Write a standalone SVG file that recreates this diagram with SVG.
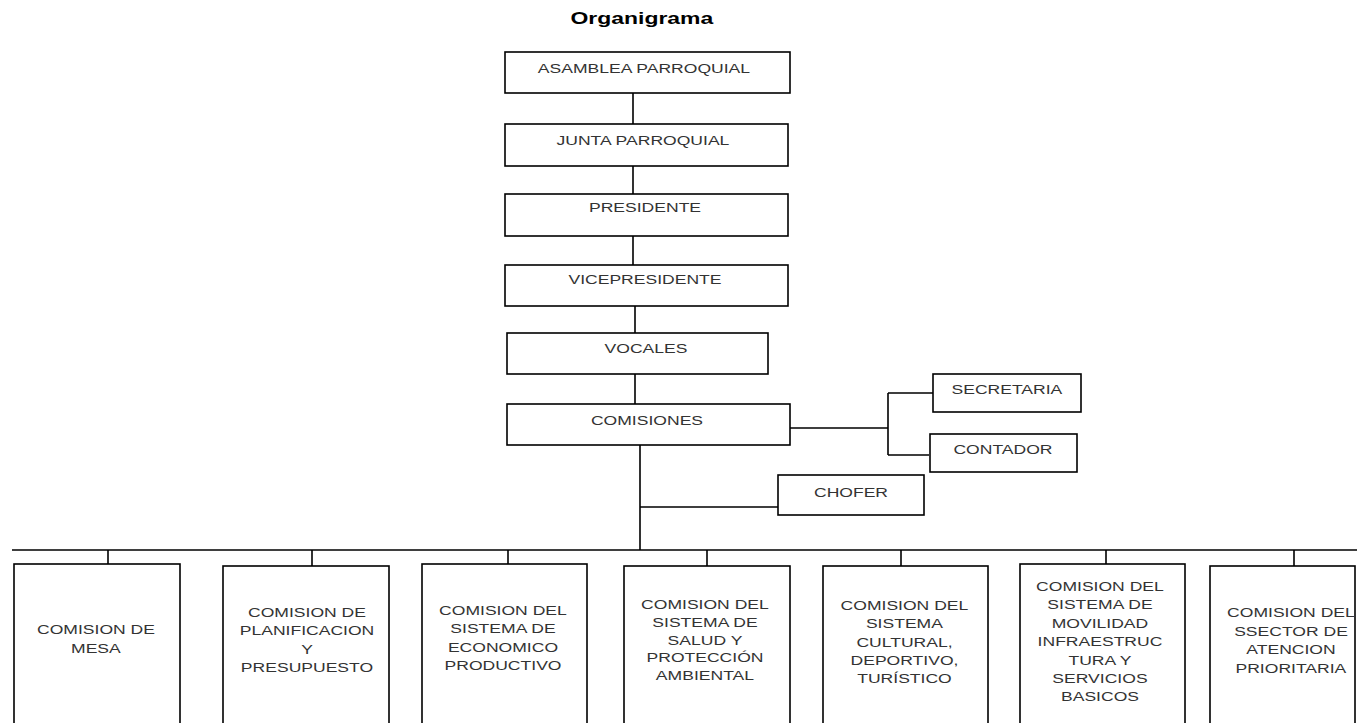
<svg xmlns="http://www.w3.org/2000/svg" width="1357" height="723" viewBox="0 0 1357 723">
<style>
.b{fill:#fff;stroke:#000;stroke-width:1.6}
.t{font-family:"Liberation Sans",Arial,sans-serif;font-size:13px;fill:#333;text-anchor:middle}
.h{font-family:"Liberation Sans",Arial,sans-serif;font-size:17px;font-weight:bold;fill:#000;text-anchor:middle}
.t,.h{transform-box:fill-box;transform-origin:center;transform:scaleX(1.35)}
.c{fill:none;stroke:#000;stroke-width:1.6}
</style>
<rect width="1357" height="723" fill="#fff"/>
<text class="h" x="642" y="24">Organigrama</text>
<g id="connectors">
<path class="c" d="M633 93V124M633 166V194M633 236V265M635 306V333M635 374V404"/>
<path class="c" d="M790 428H888M888 393V455M888 393H933M888 455H929"/>
<path class="c" d="M640 445V550M640 507H778"/>
<path class="c" d="M12 550H1357M108 550V564M312 550V566M508 550V564M707 550V566M901 550V566M1106 550V564M1294 550V566"/>
</g>
<g id="asamblea"><rect class="b" x="505" y="52" width="285" height="41"/><text class="t" x="644" y="73">ASAMBLEA PARROQUIAL</text></g>
<g id="junta"><rect class="b" x="505" y="124" width="283" height="42"/><text class="t" x="643" y="145">JUNTA PARROQUIAL</text></g>
<g id="presidente"><rect class="b" x="505" y="194" width="283" height="42"/><text class="t" x="645" y="212">PRESIDENTE</text></g>
<g id="vicepresidente"><rect class="b" x="505" y="265" width="283" height="41"/><text class="t" x="645" y="284">VICEPRESIDENTE</text></g>
<g id="vocales"><rect class="b" x="507" y="333" width="261" height="41"/><text class="t" x="646" y="353">VOCALES</text></g>
<g id="comisiones"><rect class="b" x="507" y="404" width="283" height="41"/><text class="t" x="647" y="425">COMISIONES</text></g>
<g id="secretaria"><rect class="b" x="933" y="374" width="148" height="38"/><text class="t" x="1007" y="394">SECRETARIA</text></g>
<g id="contador"><rect class="b" x="930" y="434" width="147" height="38"/><text class="t" x="1003" y="454">CONTADOR</text></g>
<g id="chofer"><rect class="b" x="778" y="475" width="146" height="40"/><text class="t" x="851" y="497">CHOFER</text></g>
<g id="c1"><rect class="b" x="14" y="564" width="166" height="170"/><text class="t" x="96" y="634.5">COMISION DE</text><text class="t" x="96" y="653">MESA</text></g>
<g id="c2"><rect class="b" x="223" y="566" width="166" height="170"/><text class="t" x="307" y="617">COMISION DE</text><text class="t" x="307" y="635.3">PLANIFICACION</text><text class="t" x="307" y="653.6">Y</text><text class="t" x="307" y="672">PRESUPUESTO</text></g>
<g id="c3"><rect class="b" x="422" y="564" width="165" height="170"/><text class="t" x="503" y="615">COMISION DEL</text><text class="t" x="503" y="633.3">SISTEMA DE</text><text class="t" x="503" y="651.7">ECONOMICO</text><text class="t" x="503" y="670">PRODUCTIVO</text></g>
<g id="c4"><rect class="b" x="624" y="566" width="166" height="170"/><text class="t" x="705" y="609.5">COMISION DEL</text><text class="t" x="705" y="627.2">SISTEMA DE</text><text class="t" x="705" y="644.9">SALUD Y</text><text class="t" x="705" y="662.5">PROTECCIÓN</text><text class="t" x="705" y="680">AMBIENTAL</text></g>
<g id="c5"><rect class="b" x="823" y="566" width="165" height="170"/><text class="t" x="904.5" y="610">COMISION DEL</text><text class="t" x="904.5" y="628.4">SISTEMA</text><text class="t" x="904.5" y="646.8">CULTURAL,</text><text class="t" x="904.5" y="665.2">DEPORTIVO,</text><text class="t" x="904.5" y="683.5">TURÍSTICO</text></g>
<g id="c6"><rect class="b" x="1020" y="564" width="165" height="170"/><text class="t" x="1100" y="591">COMISION DEL</text><text class="t" x="1100" y="609.4">SISTEMA DE</text><text class="t" x="1100" y="627.8">MOVILIDAD</text><text class="t" x="1100" y="646.2">INFRAESTRUC</text><text class="t" x="1100" y="664.6">TURA Y</text><text class="t" x="1100" y="683">SERVICIOS</text><text class="t" x="1100" y="701.4">BASICOS</text></g>
<g id="c7"><rect class="b" x="1210" y="566" width="145" height="170"/><text class="t" x="1291" y="617">COMISION DEL</text><text class="t" x="1291" y="635.7">SSECTOR DE</text><text class="t" x="1291" y="654.4">ATENCION</text><text class="t" x="1291" y="673">PRIORITARIA</text></g>
</svg>
